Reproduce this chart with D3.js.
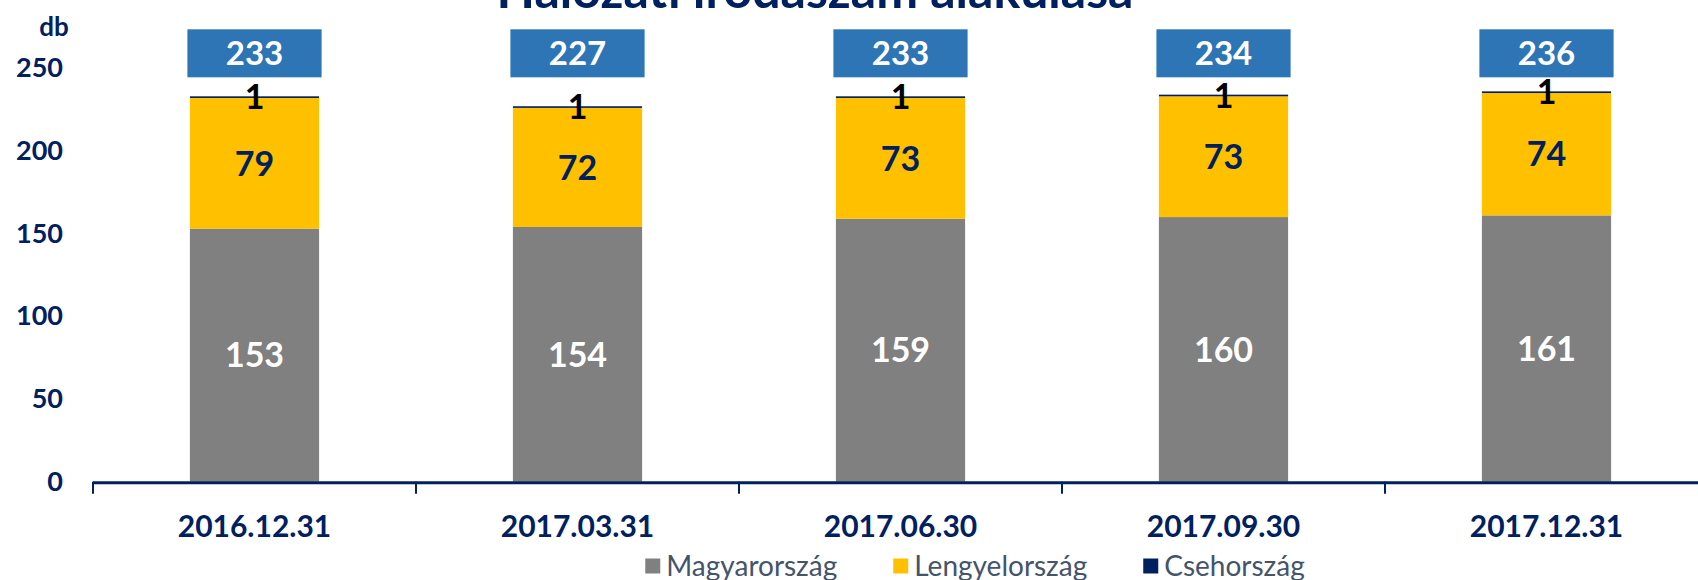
<!DOCTYPE html>
<html>
<head>
<meta charset="utf-8">
<script src="https://cdn.jsdelivr.net/npm/d3@7"></script>
<style>
  html, body { margin: 0; padding: 0; background: #fff; }
  svg { display: block; font-family: Lato, "Open Sans", sans-serif; }
</style>
</head>
<body>
<svg id="chart" width="1698" height="580"></svg>
<script>
(function() {
    'use strict';

    // Data
    var categories = ['2016.12.31', '2017.03.31', '2017.06.30', '2017.09.30', '2017.12.31'];
    var magyar = [153, 154, 159, 160, 161];
    var lengyel = [79, 72, 73, 73, 74];
    var cseh = [1, 1, 1, 1, 1];
    var totals = [233, 227, 233, 234, 236];
    var yTicks = [0, 50, 100, 150, 200, 250];
    var seriesNames = ['Magyarország', 'Lengyelország', 'Csehország'];

    var colors = {
        magyar: '#808080',
        lengyel: '#FFC000',
        cseh: '#002060',
        box: '#2E75B6',
        navy: '#002060',
        legend: '#44546A'
    };

    var svg = d3.select('#chart');

    var x = d3.scaleBand()
        .domain(categories)
        .range([93, 1708])
        .paddingInner(0.6)
        .paddingOuter(0.3);

    var y = d3.scaleLinear()
        .domain([0, 250])
        .range([481.7, 68.2]);

    // Title (mostly cut off at the top in the original)
    svg.append('text')
        .attr('x', 815)
        .attr('y', 8)
        .attr('text-anchor', 'middle')
        .attr('fill', colors.navy)
        .style('font-weight', 700)
        .style('font-size', '50px')
        .text('Hálózati irodaszám alakulása');

    // unit label
    svg.append('text')
        .attr('x', 54)
        .attr('y', 36)
        .attr('text-anchor', 'middle')
        .attr('fill', colors.navy)
        .style('font-weight', 700)
        .style('font-size', '26px')
        .text('db');

    // y axis, labels only
    var yAxis = svg.append('g')
        .attr('transform', 'translate(93,0)')
        .call(d3.axisLeft(y).tickValues(yTicks).tickSize(0).tickPadding(30));
    yAxis.select('.domain').remove();
    yAxis.selectAll('text')
        .attr('fill', colors.navy)
        .style('font-family', 'Lato, sans-serif')
        .style('font-weight', 700)
        .style('font-size', '27px');

    // stacked rows
    var rows = categories.map(function(c, i) {
        return { cat: c, magyar: magyar[i], lengyel: lengyel[i], cseh: cseh[i], total: totals[i] };
    });
    var stack = d3.stack().keys(['magyar', 'lengyel', 'cseh'])(rows);

    var layers = svg.selectAll('g.layer')
        .data(stack)
        .join('g')
        .attr('class', 'layer')
        .attr('fill', function(d) { return colors[d.key]; });

    layers.selectAll('rect')
        .data(function(d) { return d; })
        .join('rect')
        .attr('x', function(d) { return x(d.data.cat); })
        .attr('width', x.bandwidth())
        .attr('y', function(d) { return y(d[1]); })
        .attr('height', function(d) { return y(d[0]) - y(d[1]); });

    var labelStyle = {
        magyar: '#FFFFFF',
        lengyel: colors.navy,
        cseh: '#000000'
    };

    stack.forEach(function(layer) {
        svg.append('g').selectAll('text')
            .data(layer)
            .join('text')
            .attr('x', function(d) { return x(d.data.cat) + x.bandwidth() / 2; })
            .attr('y', function(d) { return y((d[0] + d[1]) / 2); })
            .attr('dy', '0.36em')
            .attr('text-anchor', 'middle')
            .attr('fill', labelStyle[layer.key])
            .style('font-weight', 700)
            .style('font-size', '34px')
            .text(function(d) { return d[1] - d[0]; });
    });

    // total boxes
    var boxW = x.bandwidth() + 5, boxH = 48;
    var boxY = y(259);
    var boxes = svg.append('g').selectAll('g')
        .data(rows)
        .join('g')
        .attr('transform', function(d) {
            return 'translate(' + (x(d.cat) + x.bandwidth() / 2) + ',' + boxY + ')';
        });
    boxes.append('rect')
        .attr('x', -boxW / 2)
        .attr('y', -boxH / 2)
        .attr('width', boxW)
        .attr('height', boxH)
        .attr('fill', colors.box);
    boxes.append('text')
        .attr('text-anchor', 'middle')
        .attr('dy', '0.36em')
        .attr('fill', '#fff')
        .style('font-weight', 700)
        .style('font-size', '33px')
        .text(function(d) { return d.total; });

    // x axis: line + boundary ticks
    var xAxisG = svg.append('g');
    xAxisG.append('line')
        .attr('x1', x.range()[0])
        .attr('x2', x.range()[1])
        .attr('y1', y(0) + 1)
        .attr('y2', y(0) + 1)
        .attr('stroke', colors.navy)
        .attr('stroke-width', 3);
    var step = x.step();
    xAxisG.selectAll('line.tick')
        .data(categories)
        .join('line')
        .attr('class', 'tick')
        .attr('x1', function(d) { return x(d) - step * 0.3; })
        .attr('x2', function(d) { return x(d) - step * 0.3; })
        .attr('y1', y(0))
        .attr('y2', y(0) + 12)
        .attr('stroke', colors.navy)
        .attr('stroke-width', 2);
    xAxisG.selectAll('text')
        .data(categories)
        .join('text')
        .attr('x', function(d) { return x(d) + x.bandwidth() / 2; })
        .attr('y', 526)
        .attr('dy', '0.36em')
        .attr('text-anchor', 'middle')
        .attr('fill', colors.navy)
        .style('font-weight', 700)
        .style('font-size', '30px')
        .text(function(d) { return d; });

    // legend
    var legendKeys = ['magyar', 'lengyel', 'cseh'];
    var legend = svg.append('g');
    var items = legend.selectAll('g')
        .data(legendKeys)
        .join('g');
    items.append('rect')
        .attr('width', 15)
        .attr('height', 15)
        .attr('y', -7.5)
        .attr('fill', function(d) { return colors[d]; });
    items.append('text')
        .attr('x', 21)
        .attr('dy', '0.36em')
        .attr('fill', colors.legend)
        .style('font-size', '28px')
        .text(function(d, i) { return seriesNames[i]; });

    var cursor = 0;
    var widths = [];
    items.each(function() {
        var w = 21 + this.querySelector('text').getComputedTextLength();
        widths.push(w);
    });
    var total = d3.sum(widths) + 56 * (widths.length - 1);
    var start = 975 - total / 2;
    items.attr('transform', function(d, i) {
        var tx = start + cursor;
        cursor += widths[i] + 56;
        return 'translate(' + tx + ',566)';
    });
})();
</script>
</body>
</html>
